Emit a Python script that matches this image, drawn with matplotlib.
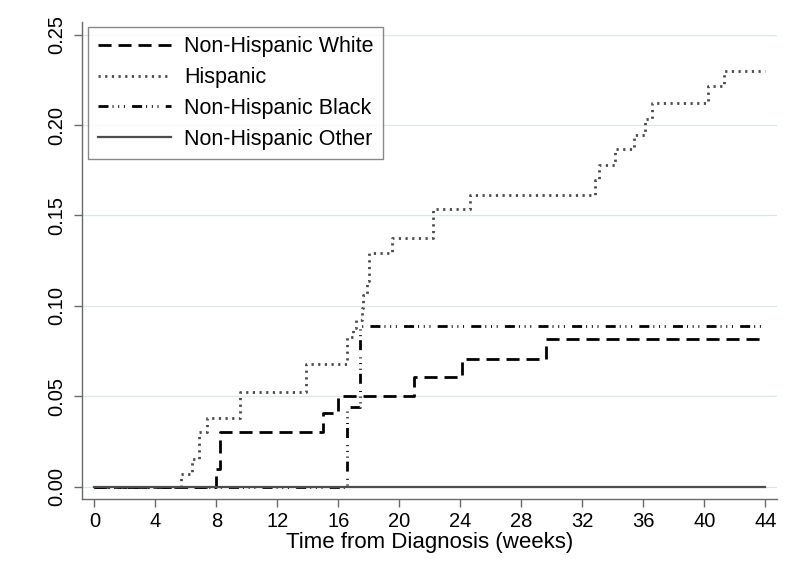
import matplotlib

matplotlib.use("Agg")
import matplotlib.pyplot as plt
import numpy as np

plt.rcParams["font.family"] = ["Liberation Sans", "DejaVu Sans"]
plt.rcParams["lines.scale_dashes"] = False

# cumulative incidence, step functions (weeks, proportion)
white_t = [0, 7.98, 8.24, 14.97, 16.0, 20.98, 24.13, 29.6, 44]
white_y = [0, 0.0098, 0.0301, 0.0406, 0.0503, 0.0605, 0.0706, 0.0817, 0.0817]

hisp_t = [0, 5.67, 6.43, 6.87, 7.41, 9.55, 13.86, 16.55, 16.94, 17.16, 17.53,
          17.64, 17.85, 18.03, 19.5, 22.23, 24.64, 32.83, 33.1, 34.14, 35.39,
          36.13, 36.55, 40.26, 41.29, 44]
hisp_y = [0, 0.0069, 0.0153, 0.0304, 0.0378, 0.0526, 0.0679, 0.083, 0.088,
          0.092, 0.099, 0.106, 0.114, 0.1294, 0.1374, 0.1534, 0.1613, 0.1697,
          0.1781, 0.1866, 0.1945, 0.2036, 0.2124, 0.2216, 0.2301, 0.2301]

black_t = [0, 16.6, 17.42, 44]
black_y = [0, 0.0443, 0.0889, 0.0889]

other_t = [0, 44]
other_y = [0, 0]

labels = ["Non-Hispanic White", "Hispanic", "Non-Hispanic Black", "Non-Hispanic Other"]
x_ticks = np.arange(0, 45, 4)
y_ticks = np.arange(0, 0.26, 0.05)

fig = plt.figure(figsize=(8.0, 5.81), dpi=100)
ax = fig.add_axes([0.1025, 0.1411, 0.86875, 0.821])

grid_col = "#d9e8e8"
for yv in y_ticks:
    ax.axhline(yv, color=grid_col, lw=0.9, zorder=0)

ax.step(white_t, white_y, where="post", color="black", lw=2.0,
        ls=(0, (9.4, 5.0)), label=labels[0], zorder=2)
ax.step(hisp_t, hisp_y, where="post", color="#4a4a4a", lw=2.0,
        ls=(0, (1.6, 3.2)), label=labels[1], zorder=3)
ax.step(black_t, black_y, where="post", color="black", lw=2.0,
        ls=(0, (7.2, 2.9, 0.7, 3.4, 0.7, 3.4, 0.7, 5.2)), label=labels[2], zorder=4)
ax.step(other_t, other_y, where="post", color="#4d4d4d", lw=1.6,
        ls="-", label=labels[3], zorder=5)

ax.set_xlim(-0.81, 44.77)
ax.set_ylim(-0.0068, 0.257)
ax.set_xticks(x_ticks)
ax.set_yticks(y_ticks)
ax.set_yticklabels(["{:.2f}".format(v) for v in y_ticks], rotation=90, va="center")

for side in ("top", "right"):
    ax.spines[side].set_visible(False)
for side in ("left", "bottom"):
    ax.spines[side].set_color("#6a6a6a")
    ax.spines[side].set_linewidth(1.0)
ax.tick_params(axis="both", length=6, width=1.0, color="#6a6a6a", labelsize=14.5)
ax.tick_params(axis="x", pad=3)
ax.tick_params(axis="y", pad=5)

ax.set_xlabel("Time from Diagnosis (weeks)", fontsize=16, labelpad=1)

leg = ax.legend(loc="upper left", bbox_to_anchor=(0.0086, 0.99), fontsize=15.5,
                frameon=True, fancybox=False, handlelength=3.4, handletextpad=0.6,
                labelspacing=0.45, borderpad=0.45, borderaxespad=0)
leg.get_frame().set_edgecolor("#6a6a6a")
leg.get_frame().set_linewidth(1.0)

fig.savefig("out.png", dpi=100)
